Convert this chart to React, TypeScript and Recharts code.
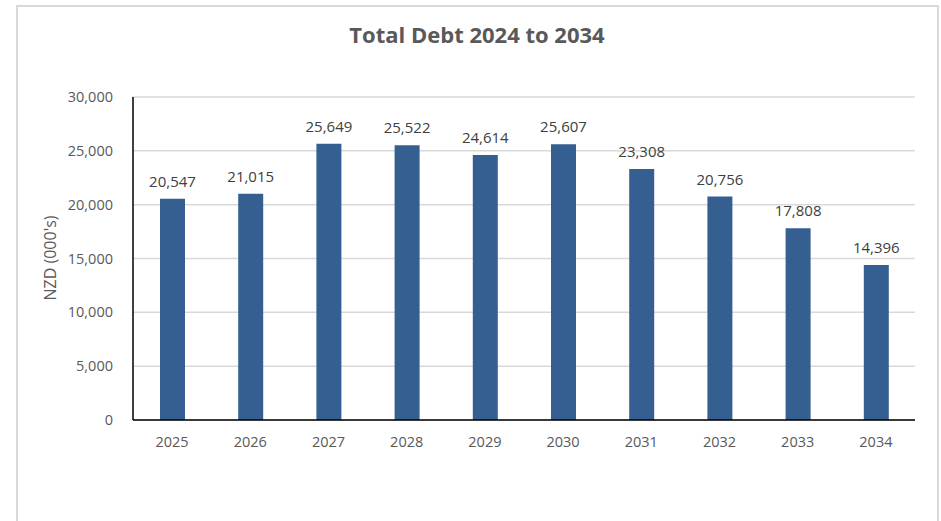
import { BarChart, Bar, XAxis, YAxis, CartesianGrid, LabelList } from "recharts";

const years = ["2025", "2026", "2027", "2028", "2029", "2030", "2031", "2032", "2033", "2034"];
const debt = [20547, 21015, 25649, 25522, 24614, 25607, 23308, 20756, 17808, 14396];
const yTicks = [0, 5000, 10000, 15000, 20000, 25000, 30000];

const data = years.map((year, i) => ({ year, debt: debt[i] }));

const fmt = (v: number) => v.toLocaleString("en-US");
const font = "'Open Sans', sans-serif";

const App = () => (
  <div style={{ position: "absolute", left: 0, top: 0, width: 941, height: 521, overflow: "hidden", background: "#fff", fontFamily: font }}>
    {/* chart frame */}
    <div
      style={{
        position: "absolute",
        left: 16,
        top: 5,
        width: 923,
        height: 540,
        boxSizing: "border-box",
        border: "2px solid #d9d9d9",
      }}
    />
    <div
      style={{
        position: "absolute",
        left: 0,
        top: 19,
        width: 954,
        textAlign: "center",
        fontSize: 22,
        fontWeight: 700,
        color: "#595959",
      }}
    >
      Total Debt 2024 to 2034
    </div>
    <div
      style={{
        position: "absolute",
        left: 50,
        top: 258,
        transform: "translate(-50%, -50%) rotate(-90deg)",
        whiteSpace: "nowrap",
        fontSize: 16,
        color: "#595959",
      }}
    >
      NZD (000's)
    </div>
    <div style={{ position: "absolute", left: 0, top: 0 }}>
      <BarChart width={941} height={521} data={data} margin={{ top: 97, right: 26, bottom: 71, left: 0 }}>
        <CartesianGrid vertical={false} stroke="#d9d9d9" strokeWidth={1.5} />
        <XAxis
          dataKey="year"
          height={30}
          tickLine={false}
          tickSize={0}
          tickMargin={17}
          axisLine={{ stroke: "#000", strokeWidth: 1.5 }}
          tick={{ fill: "#595959", fontSize: 14.5, fontFamily: font }}
        />
        <YAxis
          width={133}
          domain={[0, 30000]}
          ticks={yTicks}
          tickFormatter={fmt}
          tickLine={false}
          tickSize={0}
          tickMargin={20}
          axisLine={{ stroke: "#000", strokeWidth: 1.5 }}
          tick={{ fill: "#595959", fontSize: 14.5, fontFamily: font }}
        />
        <Bar dataKey="debt" fill="#365f91" barSize={25} isAnimationActive={false}>
          <LabelList
            dataKey="debt"
            position="top"
            offset={12}
            formatter={(v: number) => fmt(v)}
            style={{ fill: "#404040", fontSize: 15, fontFamily: font }}
          />
        </Bar>
      </BarChart>
    </div>
  </div>
);

export default App;
